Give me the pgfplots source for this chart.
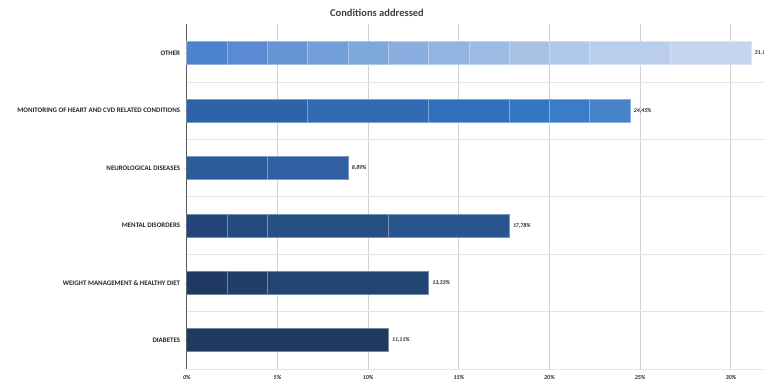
\documentclass[border=0pt]{standalone}
\usepackage{fontspec}
\setmainfont{Carlito}
\usepackage{pgfplots}
\pgfplotsset{compat=1.18}

% segment colours, left to right within each bar
\definecolor{oA}{HTML}{4D82CF}
\definecolor{oB}{HTML}{5A8BD2}
\definecolor{oC}{HTML}{6795D4}
\definecolor{oD}{HTML}{729FDA}
\definecolor{oE}{HTML}{7EA7DA}
\definecolor{oF}{HTML}{89AEDF}
\definecolor{oG}{HTML}{93B4E0}
\definecolor{oH}{HTML}{9DBAE2}
\definecolor{oI}{HTML}{A7C1E5}
\definecolor{oJ}{HTML}{B0C8E8}
\definecolor{oK}{HTML}{BACEEB}
\definecolor{oL}{HTML}{C6D5EE}
\definecolor{mA}{HTML}{2E63A8}
\definecolor{mB}{HTML}{306BB3}
\definecolor{mC}{HTML}{3170BA}
\definecolor{mD}{HTML}{3376C1}
\definecolor{mE}{HTML}{3A7CC5}
\definecolor{mF}{HTML}{4783C9}
\definecolor{nA}{HTML}{2C5C9C}
\definecolor{nB}{HTML}{2E60A2}
\definecolor{dA}{HTML}{22467A}
\definecolor{dB}{HTML}{244A7F}
\definecolor{dC}{HTML}{264F86}
\definecolor{dD}{HTML}{29568F}
\definecolor{wA}{HTML}{1E3962}
\definecolor{wB}{HTML}{203E6A}
\definecolor{wC}{HTML}{224473}
\definecolor{diab}{HTML}{1E3A5F}
\definecolor{vgrid}{HTML}{D2D2D2}
\definecolor{hgrid}{HTML}{DCE6F1}
\definecolor{txt}{HTML}{262626}

\begin{document}
\begin{tikzpicture}[x=1pt,y=1pt]
\begin{axis}[
  at={(186.8pt,13pt)}, anchor=south west,
  scale only axis, width=634.6pt, height=344.5pt,
  xmin=0, xmax=35, ymin=-0.5, ymax=5.5,
  axis x line*=bottom, axis y line*=left,
  x axis line style={-, draw=hgrid, line width=0.8pt},
  y axis line style={-, draw=black!65, line width=1pt},
  xtick={0,5,...,30},
  xticklabel={\pgfmathprintnumber{\tick}\%},
  xtick style={draw=none},
  x tick label style={font=\fontsize{6}{7}\selectfont\bfseries\itshape, text=txt},
  xmajorgrids, major grid style={draw=vgrid, line width=0.8pt},
  ytick={0,...,5},
  yticklabels={DIABETES, WEIGHT MANAGEMENT \& HEALTHY DIET, MENTAL DISORDERS,
    NEUROLOGICAL DISEASES, MONITORING OF HEART AND CVD RELATED CONDITIONS, OTHER},
  ytick style={draw=hgrid, line width=0.6pt},
  major tick length=3pt, tick align=outside,
  y tick label style={font=\fontsize{6.9}{8}\selectfont\bfseries, text=txt, anchor=east, inner sep=0pt, xshift=-3.5pt},
  minor ytick={0.5,1.5,2.5,3.5,4.5},
  yminorgrids, minor grid style={draw=hgrid, line width=0.8pt},
  minor tick length=0pt,
  /pgf/number format/assume math mode=true,
  seg/.style={xbar, bar width=23pt, bar shift=0pt, fill=#1, draw=#1!62!white, line width=0.7pt},
  lab/.style={point meta=x, nodes near coords={\pgfmathprintnumber[fixed,fixed zerofill,precision=2,use comma]{\pgfplotspointmeta}\%},
    every node near coord/.append style={anchor=west, inner sep=0pt, xshift=3.5pt,
      font=\fontsize{5.8}{6}\selectfont\bfseries\itshape, text=txt}},
]
% each bar: cumulative segment ends, longest first, shorter ones painted over it
% OTHER
\addplot[seg=oL, lab] coordinates {(31.11,5)};
\addplot[seg=oK] coordinates {(26.67,5)};
\addplot[seg=oJ] coordinates {(22.22,5)};
\addplot[seg=oI] coordinates {(20.00,5)};
\addplot[seg=oH] coordinates {(17.78,5)};
\addplot[seg=oG] coordinates {(15.56,5)};
\addplot[seg=oF] coordinates {(13.33,5)};
\addplot[seg=oE] coordinates {(11.11,5)};
\addplot[seg=oD] coordinates {(8.89,5)};
\addplot[seg=oC] coordinates {(6.67,5)};
\addplot[seg=oB] coordinates {(4.44,5)};
\addplot[seg=oA] coordinates {(2.22,5)};
% MONITORING OF HEART AND CVD RELATED CONDITIONS
\addplot[seg=mF, lab] coordinates {(24.45,4)};
\addplot[seg=mE] coordinates {(22.22,4)};
\addplot[seg=mD] coordinates {(20.00,4)};
\addplot[seg=mC] coordinates {(17.78,4)};
\addplot[seg=mB] coordinates {(13.33,4)};
\addplot[seg=mA] coordinates {(6.67,4)};
% NEUROLOGICAL DISEASES
\addplot[seg=nB, lab] coordinates {(8.89,3)};
\addplot[seg=nA] coordinates {(4.44,3)};
% MENTAL DISORDERS
\addplot[seg=dD, lab] coordinates {(17.78,2)};
\addplot[seg=dC] coordinates {(11.11,2)};
\addplot[seg=dB] coordinates {(4.44,2)};
\addplot[seg=dA] coordinates {(2.22,2)};
% WEIGHT MANAGEMENT & HEALTHY DIET
\addplot[seg=wC, lab] coordinates {(13.33,1)};
\addplot[seg=wB] coordinates {(4.44,1)};
\addplot[seg=wA] coordinates {(2.22,1)};
% DIABETES
\addplot[seg=diab, lab] coordinates {(11.11,0)};
\end{axis}
\node[font=\fontsize{10.5}{12}\selectfont\bfseries, text=black!75] at (377,369) {Conditions addressed};
\pgfresetboundingbox
\path[use as bounding box] (0,0) rectangle (764,382);
\end{tikzpicture}
\end{document}
